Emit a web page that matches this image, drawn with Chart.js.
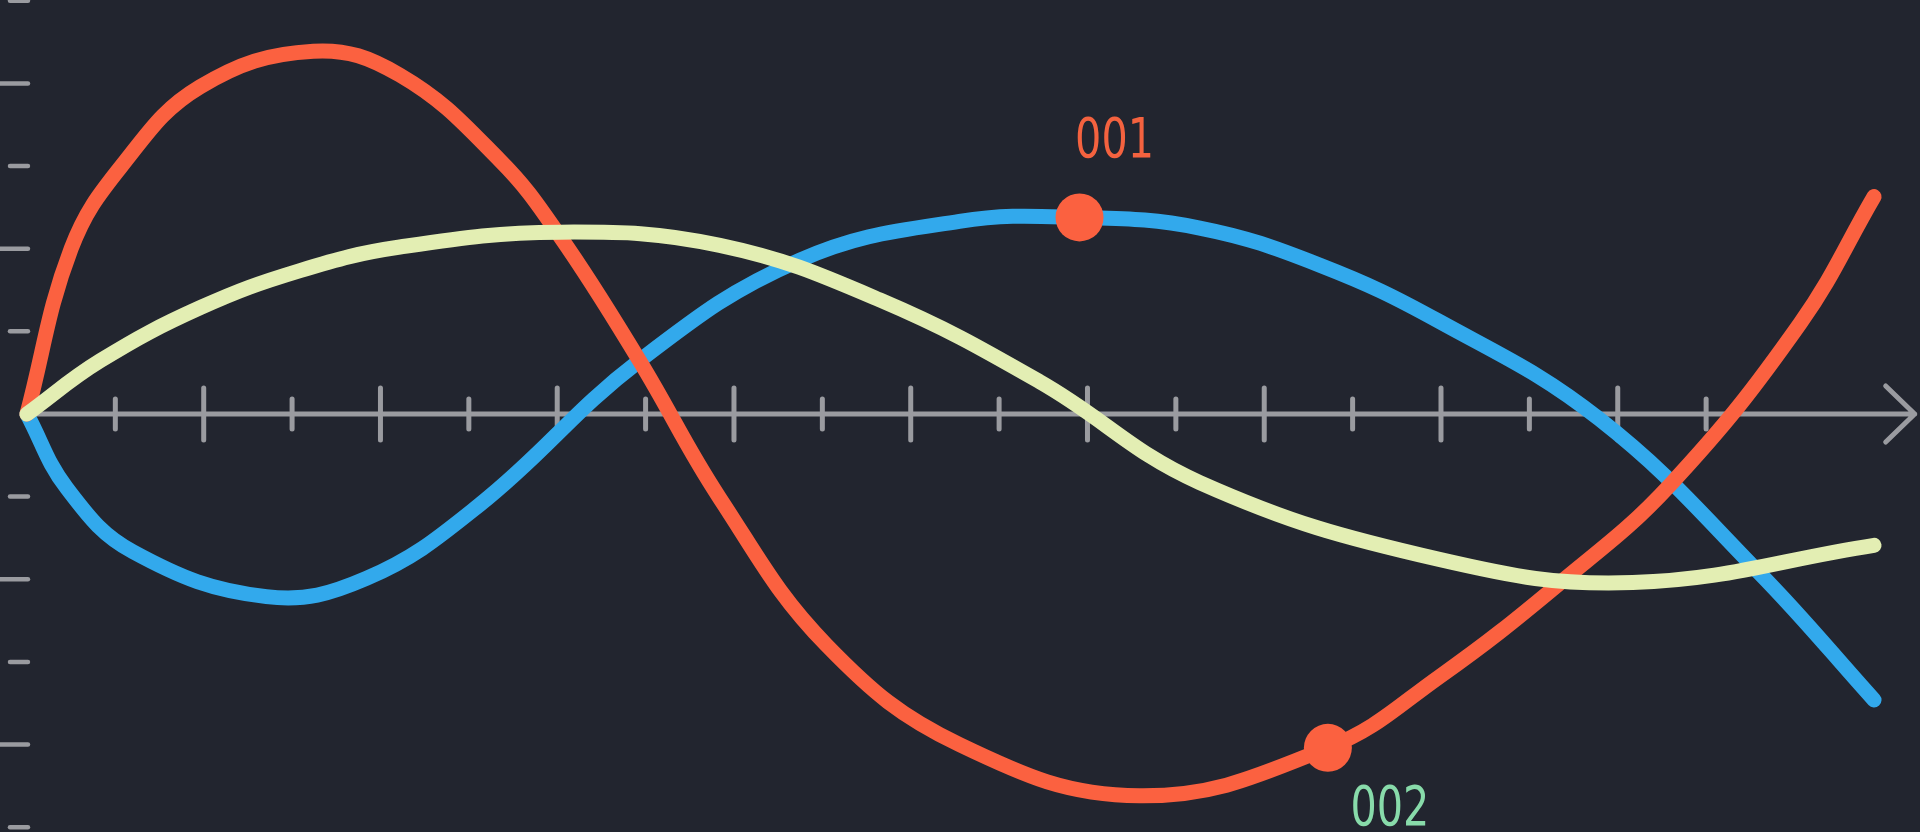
<!DOCTYPE html>
<html>
<head>
<meta charset="utf-8">
<script src="https://cdn.jsdelivr.net/npm/chart.js@4"></script>
<style>
  html, body { margin: 0; padding: 0; background: #22252f; overflow: hidden; }
  #wrap { width: 1920px; height: 832px; }
</style>
</head>
<body>
<div id="wrap"><canvas id="curves" width="1920" height="832"></canvas></div>
<script>
// x in axis tick steps, y in y-dash steps (axis = 0)
const redX = [0, 0.50, 1.07, 1.96, 3.24, 4.22, 5.35, 6.03, 6.93, 7.84, 9.05, 10.55, 12.59, 14.72, 15.98, 17.34, 18.59, 20.06, 20.90];
const redY = [0, 2.0, 3.0, 3.96, 4.39, 4.10, 3.07, 2.15, 0.645, -1.02, -2.80, -4.0, -4.62, -4.04, -3.18, -2.05, -0.86, 1.09, 2.63];

const blueX = [0, 0.45, 1.20, 2.71, 3.84, 5.12, 6.93, 8.74, 10.55, 11.91, 13.27, 14.63, 15.98, 17.79, 19.60, 20.90];
const blueY = [0, -0.896, -1.667, -2.21, -1.99, -1.10, 0.645, 1.86, 2.33, 2.378, 2.25, 1.80, 1.12, -0.06, -1.92, -3.46];

const yellowX = [0, 0.83, 1.96, 3.09, 4.22, 6.03, 7.84, 9.65, 11.46, 13.27, 15.98, 18.17, 20.90];
const yellowY = [0, 0.645, 1.286, 1.735, 2.02, 2.20, 2.04, 1.38, 0.39, -0.83, -1.76, -2.04, -1.59];

const markerLabels = ['001', '002'];
const markerX = [11.91, 14.72];
const markerY = [2.378, -4.04];

const xTicks = [1, 2, 3, 4, 5, 6, 7, 8, 9, 10, 11, 12, 13, 14, 15, 16, 17, 18, 19];
const yTicks = [-5, -4, -3, -2, -1, 1, 2, 3, 4, 5];

const toPoints = (xs, ys) => xs.map((x, i) => ({ x: x, y: ys[i] }));

// axis line with arrow, x ticks and the y dashes
const axisPlugin = {
    id: 'axisPlugin',
    beforeDatasetsDraw(chart) {
        const ctx = chart.ctx;
        const sx = chart.scales.x;
        const sy = chart.scales.y;
        const y0 = sy.getPixelForValue(0);
        const x0 = sx.getPixelForValue(0);
        const xEnd = sx.getPixelForValue(21.36);
        ctx.save();
        ctx.strokeStyle = '#9a9ba0';
        ctx.lineCap = 'round';
        ctx.lineJoin = 'round';
        ctx.lineWidth = 5;

        ctx.beginPath();
        ctx.moveTo(x0, y0);
        ctx.lineTo(xEnd, y0);
        ctx.moveTo(xEnd - 29, y0 - 28);
        ctx.lineTo(xEnd, y0);
        ctx.lineTo(xEnd - 29, y0 + 28);
        ctx.stroke();

        xTicks.forEach(t => {
            const px = sx.getPixelForValue(t);
            const h = t % 2 === 0 ? 26 : 15;
            ctx.beginPath();
            ctx.moveTo(px, y0 - h);
            ctx.lineTo(px, y0 + h);
            ctx.stroke();
        });

        ctx.lineWidth = 4.5;
        yTicks.forEach(t => {
            const py = sy.getPixelForValue(t);
            const start = Math.abs(t) % 2 === 0 ? 0 : 10;
            ctx.beginPath();
            ctx.moveTo(start, py);
            ctx.lineTo(x0 + 1, py);
            ctx.stroke();
        });
        ctx.restore();
    }
};

// text labels next to the two marked points
const labelPlugin = {
    id: 'labelPlugin',
    afterDatasetsDraw(chart) {
        const ctx = chart.ctx;
        const meta = chart.getDatasetMeta(3);
        const colors = ['#f4623f', '#88dbaa'];
        const offsets = [[35, -75], [62, 63]];
        ctx.save();
        ctx.font = '56px "DejaVu Sans Condensed", "DejaVu Sans", sans-serif';
        ctx.textAlign = 'center';
        ctx.textBaseline = 'middle';
        meta.data.forEach((pt, i) => {
            ctx.save();
            ctx.translate(pt.x + offsets[i][0], pt.y + offsets[i][1]);
            ctx.scale(0.82, 1);
            ctx.fillStyle = colors[i];
            ctx.fillText(markerLabels[i], 0, 0);
            ctx.restore();
        });
        ctx.restore();
    }
};

const lineStyle = {
    borderWidth: 15,
    pointRadius: 0,
    tension: 0.4,
    borderCapStyle: 'round',
    borderJoinStyle: 'round',
    fill: false,
    clip: false
};

new Chart(document.getElementById('curves').getContext('2d'), {
    type: 'line',
    data: {
        datasets: [
            Object.assign({ label: 'blue', data: toPoints(blueX, blueY), borderColor: '#32a9ec', order: 3 }, lineStyle),
            Object.assign({ label: 'red', data: toPoints(redX, redY), borderColor: '#fb6140', order: 2 }, lineStyle),
            Object.assign({ label: 'yellow', data: toPoints(yellowX, yellowY), borderColor: '#e3eeb3', order: 1 }, lineStyle),
            {
                label: 'marks',
                data: toPoints(markerX, markerY),
                showLine: false,
                pointRadius: 24,
                pointBackgroundColor: '#fb6140',
                pointBorderWidth: 0,
                order: 0,
                clip: false
            }
        ]
    },
    options: {
        responsive: false,
        animation: false,
        events: [],
        layout: { padding: 0, autoPadding: false },
        plugins: {
            legend: { display: false },
            tooltip: { enabled: false }
        },
        scales: {
            x: { type: 'linear', min: -0.305, max: 21.42, display: false },
            y: { type: 'linear', min: -5.058, max: 5.009, display: false }
        }
    },
    plugins: [axisPlugin, labelPlugin]
});
</script>
</body>
</html>
